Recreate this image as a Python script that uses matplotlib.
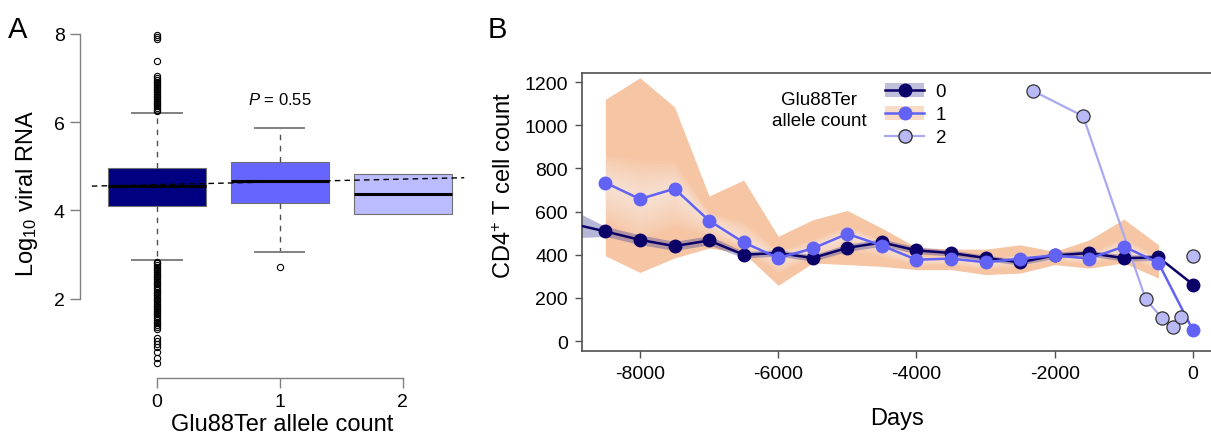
import numpy as np
import matplotlib
matplotlib.use("Agg")
import matplotlib.pyplot as plt
from matplotlib.patches import Patch
from matplotlib.lines import Line2D

plt.rcParams["font.family"] = ["Liberation Sans", "DejaVu Sans"]
plt.rcParams["mathtext.fontset"] = "custom"
plt.rcParams["mathtext.rm"] = "Liberation Sans"
plt.rcParams["mathtext.it"] = "Liberation Sans:italic"

# ---- panel A data (log10 viral RNA by allele count) ----
groups = [0, 1, 2]
box_q1 = [4.11, 4.17, 3.91]
box_med = [4.56, 4.67, 4.36]
box_q3 = [4.97, 5.10, 4.82]
whisk_lo = [2.87, 3.05, 3.91]
whisk_hi = [6.21, 5.87, 4.82]
fliers_0 = [7.97, 7.93, 7.88, 7.39, 7.05, 7.00, 6.96, 6.92, 6.88, 6.84, 6.80, 6.76,
            6.72, 6.68, 6.64, 6.60, 6.56, 6.52, 6.48, 6.44, 6.40, 6.36, 6.32, 6.28, 6.25,
            2.84, 2.80, 2.76, 2.72, 2.68, 2.64, 2.60, 2.56, 2.52, 2.48, 2.44, 2.40, 2.36,
            2.32, 2.28, 2.24, 2.20, 2.16, 2.12, 2.08, 2.04, 2.00, 1.96, 1.92, 1.88, 1.84,
            1.80, 1.76, 1.72, 1.68, 1.64, 1.60, 1.56, 1.52, 1.48, 1.44, 1.40, 1.36, 1.32,
            1.10, 1.03, 0.97, 0.90, 0.78, 0.66, 0.53]
fliers_1 = [2.71]
fliers_2 = []
fit_x = [-0.53, 2.5]
fit_y = [4.55, 4.74]
p_text = "$P$ = 0.55"
box_colors = ["#000080", "#6666ff", "#bbbbff"]

# ---- panel B data (CD4+ T cell count over days) ----
days0 = [-9000, -8500, -8000, -7500, -7000, -6500, -6000, -5500, -5000, -4500,
         -4000, -3500, -3000, -2500, -2000, -1500, -1000, -500, 0]
cd4_0 = [545, 508, 469, 440, 466, 400, 408, 385, 432, 457,
         420, 408, 385, 365, 397, 408, 384, 388, 262]
band0_lo = [478, 485, 447, 420, 446, 385, 393, 370, 415, 440,
            405, 394, 372, 352, 383, 394, 370, 374]
band0_hi = [612, 531, 492, 462, 488, 415, 423, 400, 449, 474,
            435, 422, 398, 378, 411, 422, 398, 402]

days1 = [-8500, -8000, -7500, -7000, -6500, -6000, -5500, -5000, -4500,
         -4000, -3500, -3000, -2500, -2000, -1500, -1000, -500, 0]
cd4_1 = [734, 658, 706, 558, 457, 385, 429, 497, 442,
         377, 382, 365, 382, 397, 382, 438, 362, 49]
band1_lo = [395, 318, 385, 431, 408, 258, 362, 354, 346,
            331, 331, 308, 315, 354, 338, 362, 292]
band1_hi = [1120, 1220, 1085, 672, 746, 485, 562, 605, 523,
            434, 426, 426, 446, 415, 469, 565, 446]

days2 = [-2320, -1590, -683, -452, -284, -173, 0]
cd4_2 = [1160, 1042, 193, 108, 66, 112, 392]

c0 = "#0b0068"
c1 = "#6262f5"
c2 = "#b9b9f6"

fig = plt.figure(figsize=(12.11, 4.35), dpi=100)

# ================= Panel A =================
axA = fig.add_axes([80 / 1211, 56 / 435, 399 / 1211, 356 / 435])
stats = []
for i, fl in enumerate([fliers_0, fliers_1, fliers_2]):
    stats.append(dict(med=box_med[i], q1=box_q1[i], q3=box_q3[i],
                      whislo=whisk_lo[i], whishi=whisk_hi[i], fliers=fl))
bp = axA.bxp(stats, positions=groups, widths=0.8, patch_artist=True,
             showcaps=True,
             boxprops=dict(edgecolor="#707070", linewidth=0.8),
             medianprops=dict(color="black", linewidth=2.2),
             whiskerprops=dict(color="#505050", linestyle=(0, (4, 4)), linewidth=1.0),
             capprops=dict(color="#808080", linewidth=1.4),
             flierprops=dict(marker="o", markerfacecolor="none", markeredgecolor="black",
                             markersize=4.5, markeredgewidth=0.8))
for patch, col in zip(bp["boxes"], box_colors):
    patch.set_facecolor(col)
for i, cap in enumerate(bp["caps"]):
    xd = cap.get_xdata()
    mid = np.mean(xd)
    cap.set_xdata([mid - 0.2, mid + 0.2])
    if i >= 4:
        cap.set_visible(False)
for i, w in enumerate(bp["whiskers"]):
    if i >= 4:
        w.set_visible(False)
axA.plot(fit_x, fit_y, color="black", linestyle=(0, (4, 3)), linewidth=1.0, zorder=5)
axA.text(1, 6.52, p_text, ha="center", va="center", fontsize=12)

axA.set_xlim(-0.626, 2.62)
axA.set_ylim(0.2, 8.27)
axA.spines["top"].set_visible(False)
axA.spines["right"].set_visible(False)
axA.spines["left"].set_bounds(2, 8)
axA.spines["bottom"].set_bounds(0, 2)
for s in ["left", "bottom"]:
    axA.spines[s].set_color("#808080")
    axA.spines[s].set_linewidth(1.0)
axA.set_yticks([2, 4, 6, 8])
axA.set_xticks(groups)
axA.set_xticklabels([str(g) for g in groups])
axA.tick_params(axis="both", length=7, width=1.0, color="#808080", labelsize=14, pad=4)
axA.set_ylabel("Log$_{10}$ viral RNA", fontsize=17)
axA.yaxis.set_label_coords(-0.1, 0.52)
axA.set_xlabel("Glu88Ter allele count", fontsize=17)
axA.xaxis.set_label_coords(0.506, -0.097)
fig.text(8 / 1211, 1 - 16 / 435, "A", fontsize=21, va="top", ha="left")

# ================= Panel B =================
axB = fig.add_axes([582 / 1211, 83 / 435, 629 / 1211, 278 / 435])

# peach band for allele count 1 with a lighter centre
peach = "#f6c5a4"
axB.fill_between(days1[:-1], band1_lo, band1_hi, color=peach, linewidth=0, zorder=1)
m1 = np.array(cd4_1[:-1], dtype=float)
lo1 = np.array(band1_lo, dtype=float)
hi1 = np.array(band1_hi, dtype=float)
for f in np.linspace(0.55, 0.05, 12):
    axB.fill_between(days1[:-1], m1 - f * (m1 - lo1), m1 + f * (hi1 - m1) * 0.6,
                     color="white", alpha=0.06, linewidth=0, zorder=1.5)

axB.fill_between(days0[:-1], band0_lo, band0_hi, color="#4a4a9c", alpha=0.4,
                 linewidth=0, zorder=2)

axB.plot(days0, cd4_0, color=c0, linewidth=1.8, marker="o", markersize=9,
         markeredgecolor=c0, zorder=4)
axB.plot(days1, cd4_1, color=c1, linewidth=1.8, marker="o", markersize=9,
         markeredgecolor=c1, zorder=5)
axB.plot(days2[:-1], cd4_2[:-1], color="#a9a9f0", linewidth=1.6, zorder=3)
axB.plot(days2, cd4_2, linestyle="none", marker="o", markersize=9.5,
         markerfacecolor=c2, markeredgecolor="#333333", markeredgewidth=0.9, zorder=6)

axB.set_xlim(-8838, 260)
axB.set_ylim(-46, 1242)
axB.set_xticks([-8000, -6000, -4000, -2000, 0])
axB.set_xticklabels(["-8000", "-6000", "-4000", "-2000", "0"])
axB.set_yticks([0, 200, 400, 600, 800, 1000, 1200])
axB.spines["right"].set_visible(False)
for s in ["left", "bottom", "top"]:
    axB.spines[s].set_color("#505050")
    axB.spines[s].set_linewidth(1.2)
axB.tick_params(axis="both", length=5, width=1.0, color="#505050", labelsize=14, pad=5)
axB.set_ylabel("CD4$^{+}$ T cell count", fontsize=17)
axB.yaxis.set_label_coords(-0.105, 0.6)
axB.set_xlabel("Days", fontsize=17)
axB.xaxis.set_label_coords(0.5, -0.2)

h0 = (Patch(facecolor="#4a4a9c", alpha=0.35, edgecolor="none"),
      Line2D([], [], color=c0, marker="o", markersize=9, linewidth=1.8))
h1 = (Patch(facecolor=peach, alpha=0.6, edgecolor="none"),
      Line2D([], [], color=c1, marker="o", markersize=9, linewidth=1.8))
h2 = Line2D([], [], color="#a9a9f0", marker="o", markersize=9.5, linewidth=1.6,
            markerfacecolor=c2, markeredgecolor="#333333")
axB.legend([h0, h1, h2], ["0", "1", "2"], loc="upper left",
           bbox_to_anchor=(885 / 1211, 1 - 84 / 435), bbox_transform=fig.transFigure,
           frameon=False, fontsize=13.5, handlelength=2.1, handleheight=0.75,
           labelspacing=0.3, handletextpad=0.6, borderpad=0, borderaxespad=0)
fig.text(819 / 1211, 1 - 111 / 435, "Glu88Ter\nallele count", ha="center", va="center",
         fontsize=13.5, linespacing=1.25)
fig.text(488 / 1211, 1 - 16 / 435, "B", fontsize=21, va="top", ha="left")

fig.savefig("out.png", dpi=100)
